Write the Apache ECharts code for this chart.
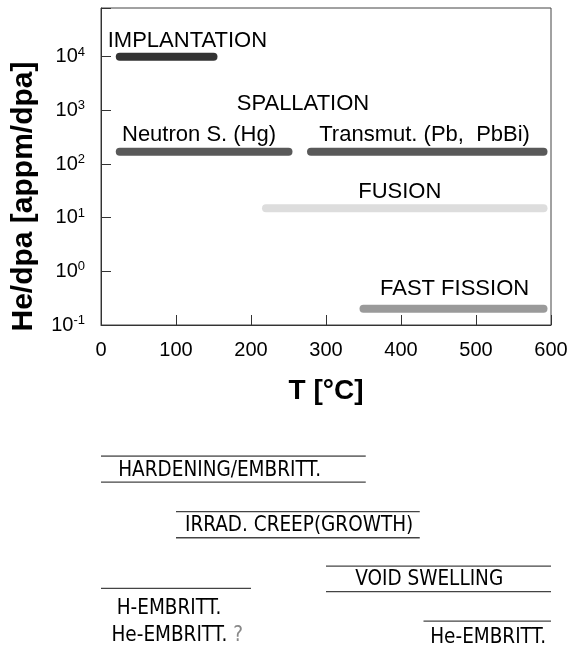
<!DOCTYPE html>
<html>
<head>
<meta charset="utf-8">
<script src="https://cdn.jsdelivr.net/npm/echarts@6/dist/echarts.min.js"></script>
<style>
html, body { margin: 0; padding: 0; background: #fff; }
#chart { width: 571px; height: 647px; }
</style>
</head>
<body>
<div id="chart"></div>
<script>
// He/dpa ranges (upper plot)
var bandStart = [25, 25, 280, 220, 350];
var bandEnd = [150, 250, 590, 590, 590];
var bandValue = [10000, 170, 170, 15, 0.2];
var bandColor = ['#333333', '#595959', '#595959', '#dddddd', '#9a9a9a'];

var tagText = ['IMPLANTATION', 'SPALLATION', 'Neutron S. (Hg)', 'Transmut. (Pb,  PbBi)', 'FUSION', 'FAST FISSION'];
var tagT = [9, 181, 28, 291, 343, 372];
var tagValue = [19800, 1330, 350, 350, 30.6, 0.47];

// effect ranges (lower part), rows count downward
var effectStart = [0, 100, 300, 0, 430];
var effectEnd = [353, 425, 600, 200, 600];
var effectTopRow = [0, 2.12, 4.2, 5.05, 6.3];
var effectBottomRow = [1, 3.12, 5.18, null, null];

var effectText = ['HARDENING/EMBRITT.', 'IRRAD. CREEP(GROWTH)', 'VOID SWELLING', 'H-EMBRITT.', 'He-EMBRITT. {q|?}', 'He-EMBRITT.'];
var effectTextT = [23, 112, 339, 21, 14, 439];
var effectTextRow = [0.55, 2.66, 4.72, 5.82, 6.85, 6.92];

var font = 'Liberation Sans, Arial, sans-serif';
var narrow = 'DejaVu Sans Condensed, sans-serif';

var chart = echarts.init(document.getElementById('chart'));

var series = [];
bandStart.forEach(function (s, i) {
    series.push({
        type: 'line',
        xAxisIndex: 0,
        yAxisIndex: 0,
        silent: true,
        symbol: 'none',
        lineStyle: { width: 8, color: bandColor[i], cap: 'round' },
        data: [[s, bandValue[i]], [bandEnd[i], bandValue[i]]]
    });
});
series.push({
    type: 'scatter',
    xAxisIndex: 0,
    yAxisIndex: 0,
    silent: true,
    symbolSize: 0,
    itemStyle: { opacity: 1 },
    label: {
        show: true,
        position: 'inside',
        align: 'left',
        verticalAlign: 'middle',
        fontFamily: font,
        fontSize: 22,
        color: '#000',
        opacity: 1,
        formatter: function (p) { return tagText[p.dataIndex]; }
    },
    data: tagT.map(function (t, i) { return [t, tagValue[i]]; })
});

effectStart.forEach(function (s, i) {
    [effectTopRow[i], effectBottomRow[i]].forEach(function (row) {
        if (row === null) return;
        series.push({
            type: 'line',
            xAxisIndex: 1,
            yAxisIndex: 1,
            silent: true,
            symbol: 'none',
            lineStyle: { width: 1.3, color: '#444' },
            data: [[s, row], [effectEnd[i], row]]
        });
    });
});
series.push({
    type: 'scatter',
    xAxisIndex: 1,
    yAxisIndex: 1,
    silent: true,
    symbolSize: 0,
    itemStyle: { opacity: 1 },
    label: {
        show: true,
        position: 'inside',
        align: 'left',
        verticalAlign: 'middle',
        fontFamily: narrow,
        fontSize: 20.5,
        color: '#000',
        opacity: 1,
        formatter: function (p) { return effectText[p.dataIndex]; },
        rich: {
            q: { fontFamily: narrow, fontSize: 20.5, color: '#888' }
        }
    },
    data: effectTextT.map(function (t, i) { return [t, effectTextRow[i]]; })
});

var option = {
    animation: false,
    backgroundColor: '#fff',
    grid: [
        { left: 101, top: 8, width: 450, height: 317, show: true, borderColor: '#444', borderWidth: 1 },
        { left: 101, top: 456, width: 450, height: 183.4 }
    ],
    xAxis: [
        {
            gridIndex: 0,
            type: 'value',
            min: 0,
            max: 600,
            interval: 100,
            name: 'T [°C]',
            nameLocation: 'middle',
            nameGap: 52,
            nameTextStyle: { fontFamily: font, fontSize: 28, fontWeight: 'bold', color: '#000' },
            axisLine: { lineStyle: { color: '#333', width: 1 } },
            axisTick: { inside: true, length: 10, lineStyle: { color: '#333' } },
            axisLabel: { fontFamily: font, fontSize: 20, color: '#000', margin: 15 },
            splitLine: { show: false }
        },
        { gridIndex: 1, type: 'value', min: 0, max: 600, show: false }
    ],
    yAxis: [
        {
            gridIndex: 0,
            type: 'log',
            logBase: 10,
            min: 0.1,
            max: 81000,
            name: 'He/dpa [appm/dpa]',
            nameLocation: 'middle',
            nameRotate: 90,
            nameGap: 62,
            nameTextStyle: { fontFamily: font, fontSize: 30, fontWeight: 'bold', color: '#000', padding: [0, 60, 0, 0] },
            axisLine: { show: true, lineStyle: { color: '#333', width: 1 } },
            axisTick: { inside: true, length: 10, lineStyle: { color: '#333' } },
            axisLabel: {
                margin: 16,
                formatter: function (v) {
                    var e = Math.log10(v);
                    if (Math.abs(e - Math.round(e)) > 1e-6) return '';
                    return '{b|10}{s|' + Math.round(e) + '}';
                },
                rich: {
                    b: { fontFamily: font, fontSize: 20, lineHeight: 22, color: '#000' },
                    s: { fontFamily: font, fontSize: 13, verticalAlign: 'top', color: '#000' }
                }
            },
            splitLine: { show: false }
        },
        { gridIndex: 1, type: 'value', min: 0, max: 7, inverse: true, show: false }
    ],
    series: series
};
chart.setOption(option);
</script>
</body>
</html>
